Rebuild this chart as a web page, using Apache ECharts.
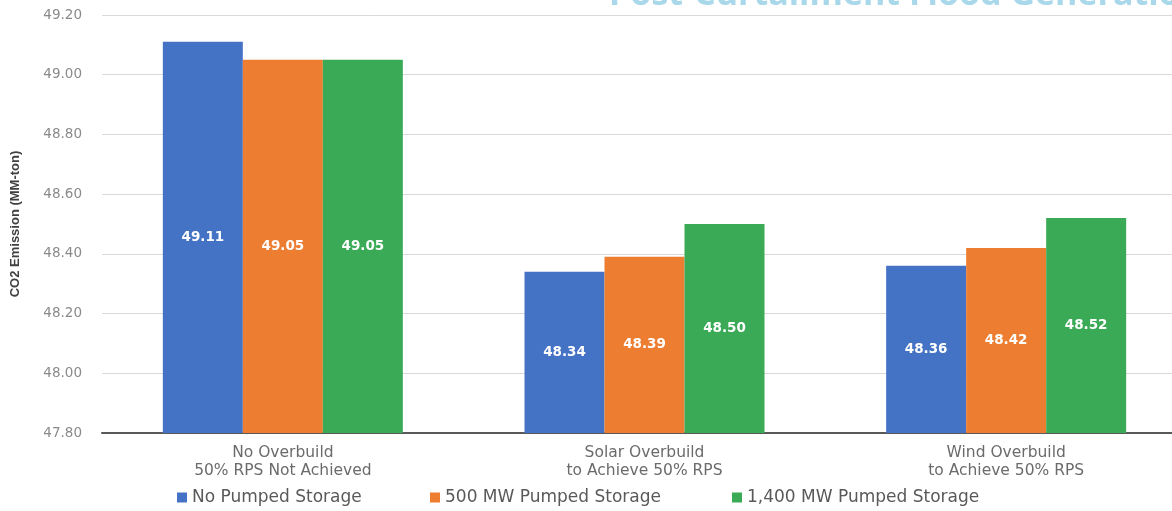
<!DOCTYPE html>
<html>
<head>
<meta charset="utf-8">
<script src="https://cdn.jsdelivr.net/npm/echarts@6/dist/echarts.min.js"></script>
<style>
  html, body { margin: 0; padding: 0; background: #ffffff; }
  #chart { width: 1172px; height: 511px; }
</style>
</head>
<body>
<div id="chart"></div>
<script>
// Scenarios (x-axis categories)
const categories = [
  'No Overbuild\n50% RPS Not Achieved',
  'Solar Overbuild\nto Achieve 50% RPS',
  'Wind Overbuild\nto Achieve 50% RPS'
];

// CO2 emission per scenario, MM-ton
const seriesNames = ['No Pumped Storage', '500 MW Pumped Storage', '1,400 MW Pumped Storage'];
const noPumpedStorage = [49.11, 48.34, 48.36];
const pumped500MW = [49.05, 48.39, 48.42];
const pumped1400MW = [49.05, 48.50, 48.52];

// Y-axis range and step
const yMin = 47.8;
const yMax = 49.2;
const yStep = 0.2;

const colors = ['#4472C4', '#ED7D31', '#3AAA57'];
const values = [noPumpedStorage, pumped500MW, pumped1400MW];

// one legend entry per series, spread along the bottom row
const legendLeft = [177, 430, 732];

const chart = echarts.init(document.getElementById('chart'), null, { renderer: 'canvas' });

chart.setOption({
  animation: false,
  backgroundColor: '#ffffff',
  title: {
    text: 'Post-Curtailment Flood Generation',
    left: 604,
    top: -27,
    textStyle: { color: '#a9d8ea', fontSize: 34, fontWeight: 'bold', fontFamily: 'Open Sans' }
  },
  // the plot runs on past the right edge of the page
  grid: {
    left: 102, top: 15, bottom: 78, width: 1085,
    containLabel: false,
    outerBoundsMode: 'none'
  },
  legend: seriesNames.map((name, i) => ({
    data: [name],
    bottom: 5,
    left: legendLeft[i],
    padding: 0,
    itemWidth: 10,
    itemHeight: 10,
    itemGap: 0,
    icon: 'rect',
    textStyle: { color: '#595959', fontSize: 17, fontFamily: 'DejaVu Sans' }
  })),
  xAxis: {
    type: 'category',
    data: categories,
    axisTick: { show: false },
    axisLine: { lineStyle: { color: '#595959', width: 2 } },
    axisLabel: {
      color: '#6b6b6b',
      fontSize: 15.5,
      fontFamily: 'DejaVu Sans',
      lineHeight: 18,
      margin: 11
    }
  },
  yAxis: {
    type: 'value',
    min: yMin,
    max: yMax,
    interval: yStep,
    name: 'CO2 Emission (MM-ton)',
    nameLocation: 'middle',
    nameGap: 80,
    nameTextStyle: { color: '#404040', fontSize: 13, fontWeight: 'bold', fontFamily: 'Liberation Sans' },
    axisLine: { show: false },
    axisTick: { show: false },
    splitLine: { lineStyle: { color: '#d9d9d9', width: 1 } },
    axisLabel: {
      color: '#8a8a8a',
      fontSize: 13.5,
      fontFamily: 'DejaVu Sans',
      margin: 20,
      formatter: v => v.toFixed(2)
    }
  },
  series: seriesNames.map((name, i) => ({
    name,
    type: 'bar',
    data: values[i],
    barWidth: 80,
    barGap: '0%',
    itemStyle: { color: colors[i] },
    label: {
      show: true,
      position: 'inside',
      color: '#ffffff',
      fontSize: 13.5,
      fontWeight: 'bold',
      fontFamily: 'DejaVu Sans',
      formatter: p => p.value.toFixed(2)
    }
  }))
});
</script>
</body>
</html>
